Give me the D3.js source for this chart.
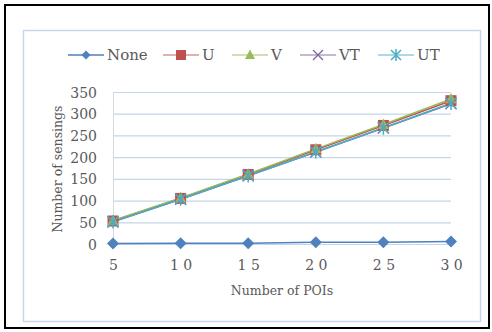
<!DOCTYPE html>
<html><head><meta charset="utf-8">
<script src="https://cdn.jsdelivr.net/npm/d3@7"></script>
<style>body{margin:0;background:#fff}svg{display:block}</style>
</head><body>
<script>
const categories = [5, 10, 15, 20, 25, 30];
const tickLabels = ["5", "1 0", "1 5", "2 0", "2 5", "3 0"];
const yTicks = [0, 50, 100, 150, 200, 250, 300, 350];
const seriesNames = ["None", "U", "V", "VT", "UT"];
const noneVals = [1, 2, 2, 4, 4, 6];
const uVals = [53, 105, 160, 217, 273, 330];
const vVals = [54, 106, 161, 219, 275, 334];
const vtVals = [51, 103, 157, 212, 267, 323];
const utVals = [51, 103, 157, 212, 267, 324];
const colors = ["#4f81bd", "#c0504d", "#9bbb59", "#8064a2", "#4bacc6"];
const symbols = ["diamond", "square", "triangle", "x", "asterisk"];

const series = seriesNames.map((n, i) => ({name: n, values: [noneVals, uVals, vVals, vtVals, utVals][i], color: colors[i], sym: symbols[i]}));

const W = 492, H = 332;
const svg = d3.select("body").append("svg").attr("width", W).attr("height", H);
const font = "'DejaVu Serif', serif";

svg.append("rect").attr("x", 5).attr("y", 5).attr("width", 484).attr("height", 323)
  .attr("fill", "#fff").attr("stroke", "#000").attr("stroke-width", 2);
svg.append("rect").attr("x", 23.5).attr("y", 30.5).attr("width", 457).attr("height", 291)
  .attr("fill", "#fff").attr("stroke", "#c9d6e8").attr("stroke-width", 1.5);

const x = d3.scaleLinear().domain([5, 30]).range([113, 451]);
const y = d3.scaleLinear().domain([0, 350]).range([244, 92]);

// gridlines
svg.append("g").selectAll("line").data(yTicks.filter(d => d > 0)).join("line")
  .attr("x1", 113).attr("x2", 451).attr("y1", d => y(d) + 0.5).attr("y2", d => y(d) + 0.5)
  .attr("stroke", "#c5d5ea").attr("stroke-width", 1.2);
svg.append("line").attr("x1", 113.5).attr("x2", 113.5).attr("y1", 92).attr("y2", 244)
  .attr("stroke", "#d9d9d9");
svg.append("line").attr("x1", 113).attr("x2", 451).attr("y1", 244.5).attr("y2", 244.5)
  .attr("stroke", "#c5d5ea");

// axes labels
const yAxis = d3.axisLeft(y).tickValues(yTicks).tickSize(0).tickPadding(0);
const gy = svg.append("g").attr("transform", "translate(97,0)").call(yAxis);
gy.select(".domain").remove();
gy.selectAll("text").attr("font-family", font).attr("font-size", 14).attr("fill", "#595959").attr("dy", "0.36em");

const xAxis = d3.axisBottom(x).tickValues(categories).tickSize(0).tickPadding(0)
  .tickFormat((d, i) => tickLabels[i]);
const gx = svg.append("g").attr("transform", "translate(0,260)").call(xAxis);
gx.select(".domain").remove();
gx.selectAll("text").attr("font-family", font).attr("font-size", 14).attr("fill", "#595959").attr("dy", "0.71em");

svg.append("text").attr("x", 282).attr("y", 295).attr("text-anchor", "middle")
  .attr("font-family", font).attr("font-size", 12.5).attr("fill", "#595959").text("Number of POIs");
svg.append("text").attr("transform", "translate(62,169) rotate(-90)").attr("text-anchor", "middle")
  .attr("font-family", font).attr("font-size", 12.5).attr("fill", "#595959").text("Number of sensings");

function drawMarker(g, sym, color, cx, cy, s) {
  if (sym === "diamond") {
    g.append("path").attr("d", `M${cx},${cy - s}L${cx + s},${cy}L${cx},${cy + s}L${cx - s},${cy}Z`).attr("fill", color);
  } else if (sym === "square") {
    g.append("rect").attr("x", cx - s).attr("y", cy - s).attr("width", 2 * s).attr("height", 2 * s).attr("fill", color);
  } else if (sym === "triangle") {
    g.append("path").attr("d", `M${cx},${cy - s * 1.1}L${cx + s},${cy + s * 0.8}L${cx - s},${cy + s * 0.8}Z`).attr("fill", color);
  } else if (sym === "x") {
    g.append("path").attr("d", `M${cx - s},${cy - s}L${cx + s},${cy + s}M${cx - s},${cy + s}L${cx + s},${cy - s}`).attr("stroke", color).attr("stroke-width", 1.3);
  } else {
    g.append("path").attr("d", `M${cx - s},${cy - s}L${cx + s},${cy + s}M${cx - s},${cy + s}L${cx + s},${cy - s}M${cx},${cy - s * 1.2}L${cx},${cy + s * 1.2}`).attr("stroke", color).attr("stroke-width", 1.5);
  }
}

const line = d3.line().x((d, i) => x(categories[i])).y(d => y(d));
series.forEach(s => {
  svg.append("path").datum(s.values).attr("d", line).attr("fill", "none")
    .attr("stroke", s.color).attr("stroke-width", 1.5);
});
series.forEach(s => {
  const g = svg.append("g");
  s.values.forEach((v, i) => drawMarker(g, s.sym, s.color, x(categories[i]), y(v), s.sym === "diamond" ? 6 : 5.5));
});

// legend
const legX = [68, 163, 232, 300, 378];
series.forEach((s, i) => {
  const g = svg.append("g");
  g.append("line").attr("x1", legX[i]).attr("x2", legX[i] + 36).attr("y1", 55).attr("y2", 55)
    .attr("stroke", s.color).attr("stroke-width", 1.5).attr("opacity", i === 0 ? 1 : 0.6);
  drawMarker(g, s.sym, s.color, legX[i] + 18, 55, s.sym === "diamond" ? 4.5 : 5);
  g.append("text").attr("x", legX[i] + 39).attr("y", 55).attr("dy", "0.36em")
    .attr("font-family", font).attr("font-size", 15).attr("fill", "#595959").text(s.name);
});
</script>
</body></html>
